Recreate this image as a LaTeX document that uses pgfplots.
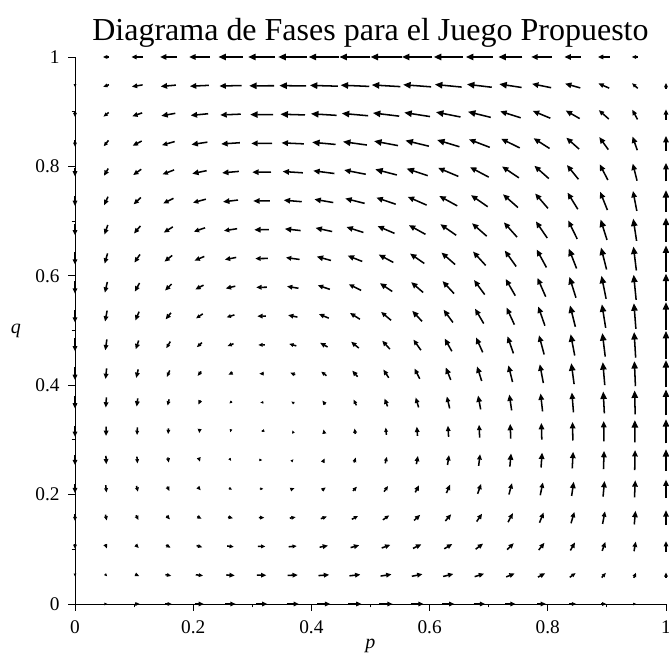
\documentclass[border=0pt]{standalone}
\usepackage{fontspec}
\setmainfont{Liberation Serif}
\usepackage{pgfplots}
\usepackage{pgfplotstable}
\pgfplotsset{compat=1.18}
\usetikzlibrary{arrows.meta}
\pgfplotstableread{
p q U V
0.05263 0 0.0045 0
0.10526 0 0.0085 0
0.15789 0 0.0120 0
0.21053 0 0.0150 0
0.26316 0 0.0175 0
0.31579 0 0.0194 0
0.36842 0 0.0209 0
0.42105 0 0.0219 0
0.47368 0 0.0224 0
0.52632 0 0.0224 0
0.57895 0 0.0219 0
0.63158 0 0.0209 0
0.68421 0 0.0194 0
0.73684 0 0.0175 0
0.78947 0 0.0150 0
0.84211 0 0.0120 0
0.89474 0 0.0085 0
0.94737 0 0.0045 0
0 0.05263 0 -0.0048
0.05263 0.05263 0.0037 -0.0040
0.10526 0.05263 0.0070 -0.0032
0.15789 0.05263 0.0099 -0.0024
0.21053 0.05263 0.0123 -0.0016
0.26316 0.05263 0.0144 -0.0009
0.31579 0.05263 0.0160 -0.0001
0.36842 0.05263 0.0173 0.0007
0.42105 0.05263 0.0181 0.0015
0.47368 0.05263 0.0185 0.0023
0.52632 0.05263 0.0185 0.0031
0.57895 0.05263 0.0181 0.0039
0.63158 0.05263 0.0173 0.0047
0.68421 0.05263 0.0160 0.0054
0.73684 0.05263 0.0144 0.0062
0.78947 0.05263 0.0123 0.0070
0.84211 0.05263 0.0099 0.0078
0.89474 0.05263 0.0070 0.0086
0.94737 0.05263 0.0037 0.0094
1 0.05263 0 0.0102
0 0.10526 0 -0.0090
0.05263 0.10526 0.0029 -0.0076
0.10526 0.10526 0.0055 -0.0061
0.15789 0.10526 0.0078 -0.0046
0.21053 0.10526 0.0097 -0.0031
0.26316 0.10526 0.0113 -0.0016
0.31579 0.10526 0.0126 -0.0001
0.36842 0.10526 0.0136 0.0014
0.42105 0.10526 0.0142 0.0029
0.47368 0.10526 0.0146 0.0043
0.52632 0.10526 0.0146 0.0058
0.57895 0.10526 0.0142 0.0073
0.63158 0.10526 0.0136 0.0088
0.68421 0.10526 0.0126 0.0103
0.73684 0.10526 0.0113 0.0118
0.78947 0.10526 0.0097 0.0133
0.84211 0.10526 0.0078 0.0147
0.89474 0.10526 0.0055 0.0162
0.94737 0.10526 0.0029 0.0177
1 0.10526 0 0.0192
0 0.15789 0 -0.0128
0.05263 0.15789 0.0021 -0.0107
0.10526 0.15789 0.0040 -0.0086
0.15789 0.15789 0.0057 -0.0065
0.21053 0.15789 0.0071 -0.0044
0.26316 0.15789 0.0083 -0.0023
0.31579 0.15789 0.0092 -0.0002
0.36842 0.15789 0.0099 0.0019
0.42105 0.15789 0.0104 0.0040
0.47368 0.15789 0.0106 0.0061
0.52632 0.15789 0.0106 0.0082
0.57895 0.15789 0.0104 0.0103
0.63158 0.15789 0.0099 0.0124
0.68421 0.15789 0.0092 0.0145
0.73684 0.15789 0.0083 0.0166
0.78947 0.15789 0.0071 0.0187
0.84211 0.15789 0.0057 0.0208
0.89474 0.15789 0.0040 0.0229
0.94737 0.15789 0.0021 0.0250
1 0.15789 0 0.0271
0 0.21053 0 -0.0160
0.05263 0.21053 0.0013 -0.0133
0.10526 0.21053 0.0025 -0.0107
0.15789 0.21053 0.0036 -0.0081
0.21053 0.21053 0.0045 -0.0055
0.26316 0.21053 0.0052 -0.0028
0.31579 0.21053 0.0058 -0.0002
0.36842 0.21053 0.0062 0.0024
0.42105 0.21053 0.0065 0.0050
0.47368 0.21053 0.0067 0.0077
0.52632 0.21053 0.0067 0.0103
0.57895 0.21053 0.0065 0.0129
0.63158 0.21053 0.0062 0.0155
0.68421 0.21053 0.0058 0.0182
0.73684 0.21053 0.0052 0.0208
0.78947 0.21053 0.0045 0.0234
0.84211 0.21053 0.0036 0.0260
0.89474 0.21053 0.0025 0.0287
0.94737 0.21053 0.0013 0.0313
1 0.21053 0 0.0339
0 0.26316 0 -0.0186
0.05263 0.26316 0.0006 -0.0156
0.10526 0.26316 0.0010 -0.0125
0.15789 0.26316 0.0015 -0.0094
0.21053 0.26316 0.0018 -0.0064
0.26316 0.26316 0.0021 -0.0033
0.31579 0.26316 0.0024 -0.0002
0.36842 0.26316 0.0026 0.0028
0.42105 0.26316 0.0027 0.0059
0.47368 0.26316 0.0028 0.0089
0.52632 0.26316 0.0028 0.0120
0.57895 0.26316 0.0027 0.0151
0.63158 0.26316 0.0026 0.0181
0.68421 0.26316 0.0024 0.0212
0.73684 0.26316 0.0021 0.0242
0.78947 0.26316 0.0018 0.0273
0.84211 0.26316 0.0015 0.0304
0.89474 0.26316 0.0010 0.0334
0.94737 0.26316 0.0006 0.0365
1 0.26316 0 0.0396
0 0.31579 0 -0.0207
0.05263 0.31579 -0.0002 -0.0173
0.10526 0.31579 -0.0004 -0.0139
0.15789 0.31579 -0.0006 -0.0105
0.21053 0.31579 -0.0008 -0.0071
0.26316 0.31579 -0.0009 -0.0037
0.31579 0.31579 -0.0010 -0.0003
0.36842 0.31579 -0.0011 0.0031
0.42105 0.31579 -0.0012 0.0066
0.47368 0.31579 -0.0012 0.0100
0.52632 0.31579 -0.0012 0.0134
0.57895 0.31579 -0.0012 0.0168
0.63158 0.31579 -0.0011 0.0202
0.68421 0.31579 -0.0010 0.0236
0.73684 0.31579 -0.0009 0.0270
0.78947 0.31579 -0.0008 0.0304
0.84211 0.31579 -0.0006 0.0338
0.89474 0.31579 -0.0004 0.0373
0.94737 0.31579 -0.0002 0.0407
1 0.31579 0 0.0441
0 0.36842 0 -0.0223
0.05263 0.36842 -0.0010 -0.0187
0.10526 0.36842 -0.0019 -0.0150
0.15789 0.36842 -0.0027 -0.0113
0.21053 0.36842 -0.0034 -0.0076
0.26316 0.36842 -0.0040 -0.0040
0.31579 0.36842 -0.0044 -0.0003
0.36842 0.36842 -0.0048 0.0034
0.42105 0.36842 -0.0050 0.0071
0.47368 0.36842 -0.0051 0.0107
0.52632 0.36842 -0.0051 0.0144
0.57895 0.36842 -0.0050 0.0181
0.63158 0.36842 -0.0048 0.0218
0.68421 0.36842 -0.0044 0.0254
0.73684 0.36842 -0.0040 0.0291
0.78947 0.36842 -0.0034 0.0328
0.84211 0.36842 -0.0027 0.0364
0.89474 0.36842 -0.0019 0.0401
0.94737 0.36842 -0.0010 0.0438
1 0.36842 0 0.0475
0 0.42105 0 -0.0234
0.05263 0.42105 -0.0018 -0.0196
0.10526 0.42105 -0.0034 -0.0157
0.15789 0.42105 -0.0048 -0.0119
0.21053 0.42105 -0.0060 -0.0080
0.26316 0.42105 -0.0070 -0.0042
0.31579 0.42105 -0.0078 -0.0003
0.36842 0.42105 -0.0085 0.0035
0.42105 0.42105 -0.0089 0.0074
0.47368 0.42105 -0.0091 0.0112
0.52632 0.42105 -0.0091 0.0151
0.57895 0.42105 -0.0089 0.0189
0.63158 0.42105 -0.0085 0.0228
0.68421 0.42105 -0.0078 0.0266
0.73684 0.42105 -0.0070 0.0305
0.78947 0.42105 -0.0060 0.0343
0.84211 0.42105 -0.0048 0.0382
0.89474 0.42105 -0.0034 0.0420
0.94737 0.42105 -0.0018 0.0459
1 0.42105 0 0.0497
0 0.47368 0 -0.0239
0.05263 0.47368 -0.0026 -0.0200
0.10526 0.47368 -0.0049 -0.0161
0.15789 0.47368 -0.0069 -0.0121
0.21053 0.47368 -0.0087 -0.0082
0.26316 0.47368 -0.0101 -0.0043
0.31579 0.47368 -0.0113 -0.0003
0.36842 0.47368 -0.0121 0.0036
0.42105 0.47368 -0.0127 0.0076
0.47368 0.47368 -0.0130 0.0115
0.52632 0.47368 -0.0130 0.0154
0.57895 0.47368 -0.0127 0.0194
0.63158 0.47368 -0.0121 0.0233
0.68421 0.47368 -0.0113 0.0272
0.73684 0.47368 -0.0101 0.0312
0.78947 0.47368 -0.0087 0.0351
0.84211 0.47368 -0.0069 0.0390
0.89474 0.47368 -0.0049 0.0430
0.94737 0.47368 -0.0026 0.0469
1 0.47368 0 0.0509
0 0.52632 0 -0.0239
0.05263 0.52632 -0.0034 -0.0200
0.10526 0.52632 -0.0064 -0.0161
0.15789 0.52632 -0.0090 -0.0121
0.21053 0.52632 -0.0113 -0.0082
0.26316 0.52632 -0.0132 -0.0043
0.31579 0.52632 -0.0147 -0.0003
0.36842 0.52632 -0.0158 0.0036
0.42105 0.52632 -0.0166 0.0076
0.47368 0.52632 -0.0169 0.0115
0.52632 0.52632 -0.0169 0.0154
0.57895 0.52632 -0.0166 0.0194
0.63158 0.52632 -0.0158 0.0233
0.68421 0.52632 -0.0147 0.0272
0.73684 0.52632 -0.0132 0.0312
0.78947 0.52632 -0.0113 0.0351
0.84211 0.52632 -0.0090 0.0390
0.89474 0.52632 -0.0064 0.0430
0.94737 0.52632 -0.0034 0.0469
1 0.52632 0 0.0509
0 0.57895 0 -0.0234
0.05263 0.57895 -0.0042 -0.0196
0.10526 0.57895 -0.0079 -0.0157
0.15789 0.57895 -0.0111 -0.0119
0.21053 0.57895 -0.0139 -0.0080
0.26316 0.57895 -0.0162 -0.0042
0.31579 0.57895 -0.0181 -0.0003
0.36842 0.57895 -0.0195 0.0035
0.42105 0.57895 -0.0204 0.0074
0.47368 0.57895 -0.0209 0.0112
0.52632 0.57895 -0.0209 0.0151
0.57895 0.57895 -0.0204 0.0189
0.63158 0.57895 -0.0195 0.0228
0.68421 0.57895 -0.0181 0.0266
0.73684 0.57895 -0.0162 0.0305
0.78947 0.57895 -0.0139 0.0343
0.84211 0.57895 -0.0111 0.0382
0.89474 0.57895 -0.0079 0.0420
0.94737 0.57895 -0.0042 0.0459
1 0.57895 0 0.0497
0 0.63158 0 -0.0223
0.05263 0.63158 -0.0050 -0.0187
0.10526 0.63158 -0.0094 -0.0150
0.15789 0.63158 -0.0132 -0.0113
0.21053 0.63158 -0.0165 -0.0076
0.26316 0.63158 -0.0193 -0.0040
0.31579 0.63158 -0.0215 -0.0003
0.36842 0.63158 -0.0231 0.0034
0.42105 0.63158 -0.0242 0.0071
0.47368 0.63158 -0.0248 0.0107
0.52632 0.63158 -0.0248 0.0144
0.57895 0.63158 -0.0242 0.0181
0.63158 0.63158 -0.0231 0.0218
0.68421 0.63158 -0.0215 0.0254
0.73684 0.63158 -0.0193 0.0291
0.78947 0.63158 -0.0165 0.0328
0.84211 0.63158 -0.0132 0.0364
0.89474 0.63158 -0.0094 0.0401
0.94737 0.63158 -0.0050 0.0438
1 0.63158 0 0.0475
0 0.68421 0 -0.0207
0.05263 0.68421 -0.0057 -0.0173
0.10526 0.68421 -0.0109 -0.0139
0.15789 0.68421 -0.0153 -0.0105
0.21053 0.68421 -0.0192 -0.0071
0.26316 0.68421 -0.0223 -0.0037
0.31579 0.68421 -0.0249 -0.0003
0.36842 0.68421 -0.0268 0.0031
0.42105 0.68421 -0.0281 0.0066
0.47368 0.68421 -0.0287 0.0100
0.52632 0.68421 -0.0287 0.0134
0.57895 0.68421 -0.0281 0.0168
0.63158 0.68421 -0.0268 0.0202
0.68421 0.68421 -0.0249 0.0236
0.73684 0.68421 -0.0223 0.0270
0.78947 0.68421 -0.0192 0.0304
0.84211 0.68421 -0.0153 0.0338
0.89474 0.68421 -0.0109 0.0373
0.94737 0.68421 -0.0057 0.0407
1 0.68421 0 0.0441
0 0.73684 0 -0.0186
0.05263 0.73684 -0.0065 -0.0156
0.10526 0.73684 -0.0123 -0.0125
0.15789 0.73684 -0.0174 -0.0094
0.21053 0.73684 -0.0218 -0.0064
0.26316 0.73684 -0.0254 -0.0033
0.31579 0.73684 -0.0283 -0.0002
0.36842 0.73684 -0.0305 0.0028
0.42105 0.73684 -0.0319 0.0059
0.47368 0.73684 -0.0327 0.0089
0.52632 0.73684 -0.0327 0.0120
0.57895 0.73684 -0.0319 0.0151
0.63158 0.73684 -0.0305 0.0181
0.68421 0.73684 -0.0283 0.0212
0.73684 0.73684 -0.0254 0.0242
0.78947 0.73684 -0.0218 0.0273
0.84211 0.73684 -0.0174 0.0304
0.89474 0.73684 -0.0123 0.0334
0.94737 0.73684 -0.0065 0.0365
1 0.73684 0 0.0396
0 0.78947 0 -0.0160
0.05263 0.78947 -0.0073 -0.0133
0.10526 0.78947 -0.0138 -0.0107
0.15789 0.78947 -0.0195 -0.0081
0.21053 0.78947 -0.0244 -0.0055
0.26316 0.78947 -0.0285 -0.0028
0.31579 0.78947 -0.0317 -0.0002
0.36842 0.78947 -0.0342 0.0024
0.42105 0.78947 -0.0358 0.0050
0.47368 0.78947 -0.0366 0.0077
0.52632 0.78947 -0.0366 0.0103
0.57895 0.78947 -0.0358 0.0129
0.63158 0.78947 -0.0342 0.0155
0.68421 0.78947 -0.0317 0.0182
0.73684 0.78947 -0.0285 0.0208
0.78947 0.78947 -0.0244 0.0234
0.84211 0.78947 -0.0195 0.0260
0.89474 0.78947 -0.0138 0.0287
0.94737 0.78947 -0.0073 0.0313
1 0.78947 0 0.0339
0 0.84211 0 -0.0128
0.05263 0.84211 -0.0081 -0.0107
0.10526 0.84211 -0.0153 -0.0086
0.15789 0.84211 -0.0216 -0.0065
0.21053 0.84211 -0.0270 -0.0044
0.26316 0.84211 -0.0315 -0.0023
0.31579 0.84211 -0.0351 -0.0002
0.36842 0.84211 -0.0378 0.0019
0.42105 0.84211 -0.0396 0.0040
0.47368 0.84211 -0.0405 0.0061
0.52632 0.84211 -0.0405 0.0082
0.57895 0.84211 -0.0396 0.0103
0.63158 0.84211 -0.0378 0.0124
0.68421 0.84211 -0.0351 0.0145
0.73684 0.84211 -0.0315 0.0166
0.78947 0.84211 -0.0270 0.0187
0.84211 0.84211 -0.0216 0.0208
0.89474 0.84211 -0.0153 0.0229
0.94737 0.84211 -0.0081 0.0250
1 0.84211 0 0.0271
0 0.89474 0 -0.0090
0.05263 0.89474 -0.0089 -0.0076
0.10526 0.89474 -0.0168 -0.0061
0.15789 0.89474 -0.0237 -0.0046
0.21053 0.89474 -0.0297 -0.0031
0.26316 0.89474 -0.0346 -0.0016
0.31579 0.89474 -0.0386 -0.0001
0.36842 0.89474 -0.0415 0.0014
0.42105 0.89474 -0.0435 0.0029
0.47368 0.89474 -0.0445 0.0043
0.52632 0.89474 -0.0445 0.0058
0.57895 0.89474 -0.0435 0.0073
0.63158 0.89474 -0.0415 0.0088
0.68421 0.89474 -0.0386 0.0103
0.73684 0.89474 -0.0346 0.0118
0.78947 0.89474 -0.0297 0.0133
0.84211 0.89474 -0.0237 0.0147
0.89474 0.89474 -0.0168 0.0162
0.94737 0.89474 -0.0089 0.0177
1 0.89474 0 0.0192
0 0.94737 0 -0.0048
0.05263 0.94737 -0.0097 -0.0040
0.10526 0.94737 -0.0183 -0.0032
0.15789 0.94737 -0.0258 -0.0024
0.21053 0.94737 -0.0323 -0.0016
0.26316 0.94737 -0.0377 -0.0009
0.31579 0.94737 -0.0420 -0.0001
0.36842 0.94737 -0.0452 0.0007
0.42105 0.94737 -0.0473 0.0015
0.47368 0.94737 -0.0484 0.0023
0.52632 0.94737 -0.0484 0.0031
0.57895 0.94737 -0.0473 0.0039
0.63158 0.94737 -0.0452 0.0047
0.68421 0.94737 -0.0420 0.0054
0.73684 0.94737 -0.0377 0.0062
0.78947 0.94737 -0.0323 0.0070
0.84211 0.94737 -0.0258 0.0078
0.89474 0.94737 -0.0183 0.0086
0.94737 0.94737 -0.0097 0.0094
1 0.94737 0 0.0102
0.05263 1 -0.0105 0
0.10526 1 -0.0198 0
0.15789 1 -0.0279 0
0.21053 1 -0.0349 0
0.26316 1 -0.0407 0
0.31579 1 -0.0454 0
0.36842 1 -0.0489 0
0.42105 1 -0.0512 0
0.47368 1 -0.0524 0
0.52632 1 -0.0524 0
0.57895 1 -0.0512 0
0.63158 1 -0.0489 0
0.68421 1 -0.0454 0
0.73684 1 -0.0407 0
0.78947 1 -0.0349 0
0.84211 1 -0.0279 0
0.89474 1 -0.0198 0
0.94737 1 -0.0105 0
}\field
\pgfplotsset{
  fld/.style n args={3}{black, line width=1.15pt,
    quiver={u=\thisrow{U}, v=\thisrow{V},
      every arrow/.append style={-{Triangle[length=#3,width=0.85*#3]}}},
    restrict expr to domain={sqrt((\thisrow{U})*(\thisrow{U})+(\thisrow{V})*(\thisrow{V}))}{#1:#2},
  },
}
\newcommand\fieldplot[3]{%
  \addplot[fld={#1}{#2}{#3}] table[x expr=\thisrow{p}-0.5*\thisrow{U}, y expr=\thisrow{q}-0.5*\thisrow{V}] {\field};}
\begin{document}
\begin{tikzpicture}
\useasboundingbox (-56.25pt,-44.25pt) rectangle (445.5pt,453pt);
\begin{axis}[
  at={(0,0)}, anchor=south west,
  scale only axis, width=443.25pt, height=410.25pt,
  xmin=0, xmax=1, ymin=0, ymax=1,
  axis x line=bottom, axis y line=left,
  axis line style={-, line width=0.7pt, black},
  xtick={0,0.2,0.4,0.6,0.8,1}, ytick={0,0.2,0.4,0.6,0.8,1},
  minor x tick num=1, minor y tick num=1,
  tick align=outside,
  major tick length=5pt, minor tick length=2.5pt,
  tick style={line width=0.7pt, black},
  ticklabel style={font=\fontsize{14.5}{16}\selectfont},
  yticklabel style={xshift=-3pt},
  xticklabel style={yshift=-4pt},
  /pgf/number format/assume math mode=true,
  clip=false,
]
\fieldplot{0}{0.006}{2.2pt}
\fieldplot{0.00601}{0.014}{3.2pt}
\fieldplot{0.01401}{0.024}{4pt}
\fieldplot{0.02401}{0.038}{4.8pt}
\fieldplot{0.03801}{0.07}{5.6pt}
\node[font=\fontsize{24}{28}\selectfont, anchor=base] at (axis cs:0.5,1.031) {Diagrama de Fases para el Juego Propuesto};
\node[font=\fontsize{15}{17}\selectfont\itshape] at (axis cs:0.5,-0.077) {p};
\node[font=\fontsize{15}{17}\selectfont\itshape] at (axis cs:-0.1,0.5) {q};
\end{axis}
\end{tikzpicture}
\end{document}
